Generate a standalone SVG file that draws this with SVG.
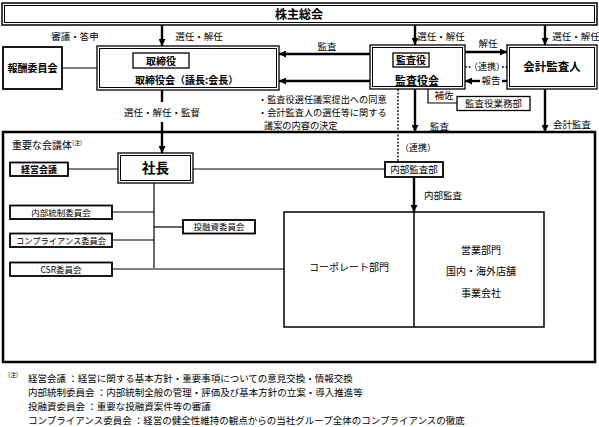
<svg xmlns="http://www.w3.org/2000/svg" width="599" height="427" viewBox="0 0 599 427">
<defs>
<marker id="ah" viewBox="0 0 10 10" refX="10" refY="5" markerWidth="7" markerHeight="7" markerUnits="userSpaceOnUse" orient="auto">
<path d="M0,0 L10,5 L0,10 z" fill="#000"/>
</marker>
<style>
text{font-family:"Noto Sans CJK JP","Noto Sans",sans-serif;fill:#000}
.b{font-weight:bold}
.m{text-anchor:middle}
.box{fill:#fff;stroke:#000;stroke-width:1.8}
.thin{fill:#fff;stroke:#000;stroke-width:1.3}
.ln{fill:none;stroke:#000;stroke-width:1.2}
.ar{fill:none;stroke:#000;stroke-width:2.4;marker-end:url(#ah)}
.th{fill:none;stroke:#000;stroke-width:2.4}
.dot{fill:none;stroke:#555;stroke-width:2;stroke-dasharray:2,1.5}
.lab{font-size:9.5px}
</style>
</defs>
<rect width="599" height="427" fill="#fff"/>

<g id="connectors">
<line class="ar" x1="162" y1="25" x2="162" y2="46"/>
<line class="ar" x1="415" y1="25" x2="415" y2="45"/>
<line class="ar" x1="545" y1="25" x2="545" y2="45"/>
<line class="ar" x1="370" y1="54" x2="279" y2="54"/>
<line class="ar" x1="370" y1="81" x2="279" y2="81"/>
<line class="ar" x1="465" y1="52" x2="507" y2="52"/>
<line class="th" x1="507" y1="81" x2="502" y2="81"/>
<line class="ar" x1="480" y1="81" x2="465" y2="81"/>
<line class="dot" x1="465" y1="67" x2="472" y2="67"/>
<line class="dot" x1="502" y1="67" x2="507" y2="67"/>
<line class="ar" x1="415" y1="89" x2="415" y2="132"/>
<line class="ar" x1="545" y1="89" x2="545" y2="132"/>
<line class="th" x1="162" y1="90" x2="162" y2="102"/>
<line class="ar" x1="162" y1="122" x2="162" y2="153"/>
<line class="ar" x1="414" y1="177" x2="414" y2="212"/>
<line class="ln" x1="62" y1="68" x2="97" y2="68"/>
<polyline class="ln" points="428,89 428,103 457,103"/>
<line class="dot" x1="398" y1="89" x2="398" y2="162"/>
<line class="ln" x1="68" y1="169" x2="118" y2="169"/>
<line class="ln" x1="193" y1="169" x2="385" y2="169"/>
<line class="ln" x1="154" y1="183" x2="154" y2="268"/>
<line class="ln" x1="112" y1="212" x2="154" y2="212"/>
<line class="ln" x1="154" y1="227" x2="183" y2="227"/>
<line class="ln" x1="112" y1="240" x2="154" y2="240"/>
<line class="ln" x1="112" y1="269" x2="284" y2="269"/>
</g>

<g id="labels">
<text class="lab m" x="75" y="40">審議・答申</text>
<text class="lab m" x="199" y="40">選任・解任</text>
<text class="lab m" x="441" y="40">選任・解任</text>
<text class="lab m" x="576" y="40">選任・解任</text>
<text class="lab m" x="327" y="50">監査</text>
<text class="lab m" x="488" y="47">解任</text>
<text class="lab m" x="487" y="70" style="font-size:9px">（連携）</text>
<text class="lab m" x="491" y="84">報告</text>
<text class="lab m" x="444" y="99">補佐</text>
<text class="lab m" x="162" y="116">選任・解任・監督</text>
<text class="lab" x="258" y="102.5" style="font-size:9.2px"><tspan x="258" y="102.5">・監査役選任議案提出への同意</tspan><tspan x="258" y="115.5">・会計監査人の選任等に関する</tspan><tspan x="264" y="128.5">議案の内容の決定</tspan></text>
<text class="lab" x="430" y="130">監査</text>
<text class="lab" x="553" y="128">会計監査</text>
<text class="lab" x="400" y="151" style="font-size:9px">（連携）</text>
<text class="lab" x="424" y="199">内部監査</text>
</g>

<g id="shareholders">
<rect x="2" y="3" width="595" height="22" fill="#fff" stroke="#000" stroke-width="1.5"/>
<rect x="4.5" y="5.5" width="590" height="17" fill="none" stroke="#000" stroke-width="1"/>
<text class="b m" x="299" y="19" style="font-size:12px">株主総会</text>
</g>

<g id="remuneration">
<rect class="box" x="3" y="47" width="59" height="42" stroke-width="2"/>
<text class="b m" x="32.5" y="72" style="font-size:10px">報酬委員会</text>
</g>

<g id="board">
<rect x="97" y="46" width="182" height="44" fill="#fff" stroke="#000" stroke-width="1.3"/>
<rect x="99.5" y="48.5" width="177" height="39" fill="none" stroke="#000" stroke-width="1"/>
<rect class="thin" x="133" y="53" width="56" height="15"/>
<text class="b m" x="161" y="64.5" style="font-size:10px">取締役</text>
<text class="b" x="135" y="84" style="font-size:10px">取締役会（議長:会長）</text>
</g>

<g id="auditors">
<rect x="370" y="45" width="95" height="44" fill="#fff" stroke="#000" stroke-width="1.3"/>
<rect x="372.5" y="47.5" width="90" height="39" fill="none" stroke="#000" stroke-width="1"/>
<rect class="thin" x="393" y="53" width="36" height="14"/>
<text class="b m" x="411" y="64" style="font-size:10px">監査役</text>
<text class="b m" x="417" y="85" style="font-size:11px">監査役会</text>
</g>

<g id="accountant">
<rect x="507" y="45" width="90" height="44" fill="#fff" stroke="#000" stroke-width="1.3"/>
<rect x="509.5" y="47.5" width="85" height="39" fill="none" stroke="#000" stroke-width="1"/>
<text class="b m" x="552" y="71" style="font-size:11.5px">会計監査人</text>
</g>

<g id="audit-office">
<rect class="thin" x="457" y="96.5" width="73" height="14"/>
<text class="m" x="493.5" y="107.3" style="font-size:9.5px">監査役業務部</text>
</g>

<g id="company">
<rect x="3" y="132" width="592" height="230" fill="none" stroke="#000" stroke-width="2.5"/>
<text x="12" y="149" style="font-size:10px">重要な会議体<tspan style="font-size:6px" dy="-4">(注)</tspan></text>
</g>

<g id="president">
<rect x="118" y="153" width="75" height="30" fill="#fff" stroke="#000" stroke-width="1.3"/>
<rect x="120.5" y="155.5" width="70" height="25" fill="none" stroke="#000" stroke-width="1"/>
<text class="b m" x="155.5" y="173" style="font-size:13.5px">社長</text>
</g>

<g id="management-meeting">
<rect class="box" x="10" y="162.5" width="58" height="13.5"/>
<text class="b m" x="39" y="172.8" style="font-size:9px">経営会議</text>
</g>

<g id="internal-control">
<rect class="box" x="10" y="205.5" width="102" height="13.5"/>
<text class="m" x="61" y="215.6" style="font-size:8.5px">内部統制委員会</text>
</g>

<g id="investment">
<rect class="box" x="183" y="220" width="72" height="13.5"/>
<text class="m" x="219" y="230.1" style="font-size:8.5px">投融資委員会</text>
</g>

<g id="compliance">
<rect class="box" x="10" y="233.5" width="102" height="13.5"/>
<text class="m" x="61" y="243.6" style="font-size:8.5px" textLength="90" lengthAdjust="spacingAndGlyphs">コンプライアンス委員会</text>
</g>

<g id="csr">
<rect class="box" x="10" y="262.5" width="102" height="13.5"/>
<text class="m" x="61" y="272.6" style="font-size:8.5px">CSR委員会</text>
</g>

<g id="internal-audit">
<rect class="box" x="385" y="162" width="58" height="15" stroke-width="1.6"/>
<text class="m" x="414" y="173.2" style="font-size:9.5px">内部監査部</text>
</g>

<g id="divisions">
<rect x="284" y="212" width="260" height="115" fill="none" stroke="#000" stroke-width="1.5"/>
<line x1="414" y1="212" x2="414" y2="327" stroke="#000" stroke-width="1.5"/>
<text class="m" x="349" y="271" style="font-size:10px">コーポレート部門</text>
<text class="m" x="481" y="254" style="font-size:10px">営業部門</text>
<text class="m" x="481" y="275" style="font-size:10px">国内・海外店舗</text>
<text class="m" x="481" y="297" style="font-size:10px">事業会社</text>
</g>

<g id="notes">
<text x="8" y="377" style="font-size:6px">(注)</text>
<text x="28" y="382" style="font-size:9.5px"><tspan x="28" y="382">経営会議 ：経営に関する基本方針・重要事項についての意見交換・情報交換</tspan><tspan x="28" y="396">内部統制委員会 ：内部統制全般の管理・評価及び基本方針の立案・導入推進等</tspan><tspan x="28" y="410">投融資委員会 ：重要な投融資案件等の審議</tspan><tspan x="28" y="424">コンプライアンス委員会 ：経営の健全性維持の観点からの当社グループ全体のコンプライアンスの徹底</tspan></text>
</g>
</svg>
